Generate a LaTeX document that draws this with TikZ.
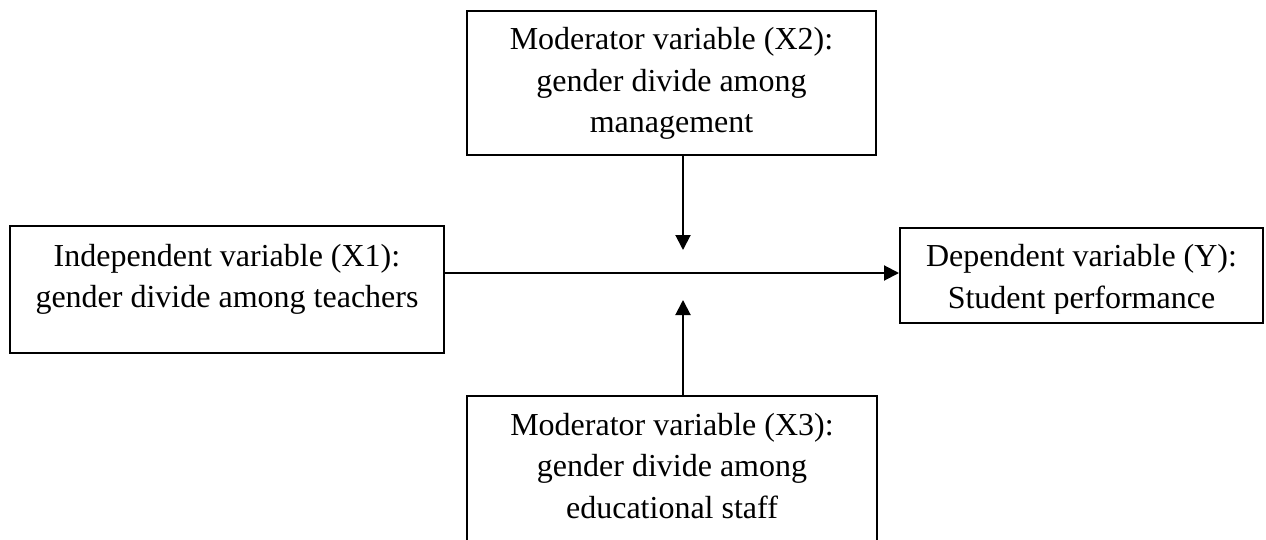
\documentclass[tikz,border=0pt]{standalone}
\usepackage{fontspec}
\setmainfont{Liberation Serif}
\usetikzlibrary{arrows.meta}
\begin{document}
\begin{tikzpicture}[x=1pt,y=-1pt,
  box/.style={draw=black, line width=2pt, rectangle, inner sep=0pt},
  txt/.style={align=center, font=\fontsize{32}{41.5}\selectfont, inner sep=0pt, anchor=base},
  arr/.style={line width=2pt, -{Triangle[length=15pt,width=15pt]}}]
\clip (0,0) rectangle (1266,540);
\fill[white] (0,0) rectangle (1266,540);
% boxes
\node[box, minimum width=409pt, minimum height=144pt] (x2) at (671.5,83) {};
\node[box, minimum width=434pt, minimum height=127pt] (x1) at (227,289.5) {};
\node[box, minimum width=363pt, minimum height=95pt] (y) at (1081.5,275.5) {};
\node[box, minimum width=410pt, minimum height=152pt] (x3) at (672,472) {};
% texts (base = baseline of last line)
\node[txt] (x2t) at ([yshift=-123pt]x2.north) {Moderator variable (X2):\\gender divide among\\management};
\node[txt] (x1t) at ([yshift=-82.5pt]x1.north) {Independent variable (X1):\\gender divide among teachers};
\node[txt] (x3t) at ([yshift=-123pt]x3.north) {Moderator variable (X3):\\gender divide among\\educational staff};
\begin{scope}
\clip (900,228) rectangle (1263,313);
\node[txt] (yt) at ([yshift=-81pt]y.north) {Dependent variable (Y):\\Student performance};
\end{scope}
% connectors
\coordinate (m2) at (683,250);
\coordinate (m3) at (683,300);
\coordinate (h) at (0,273);
\draw[arr] (m2 |- x2.south) -- (m2);
\draw[arr] (m3 |- x3.north) -- (m3);
\draw[arr] (x1.east |- h) -- (y.west |- h);
\end{tikzpicture}
\end{document}
